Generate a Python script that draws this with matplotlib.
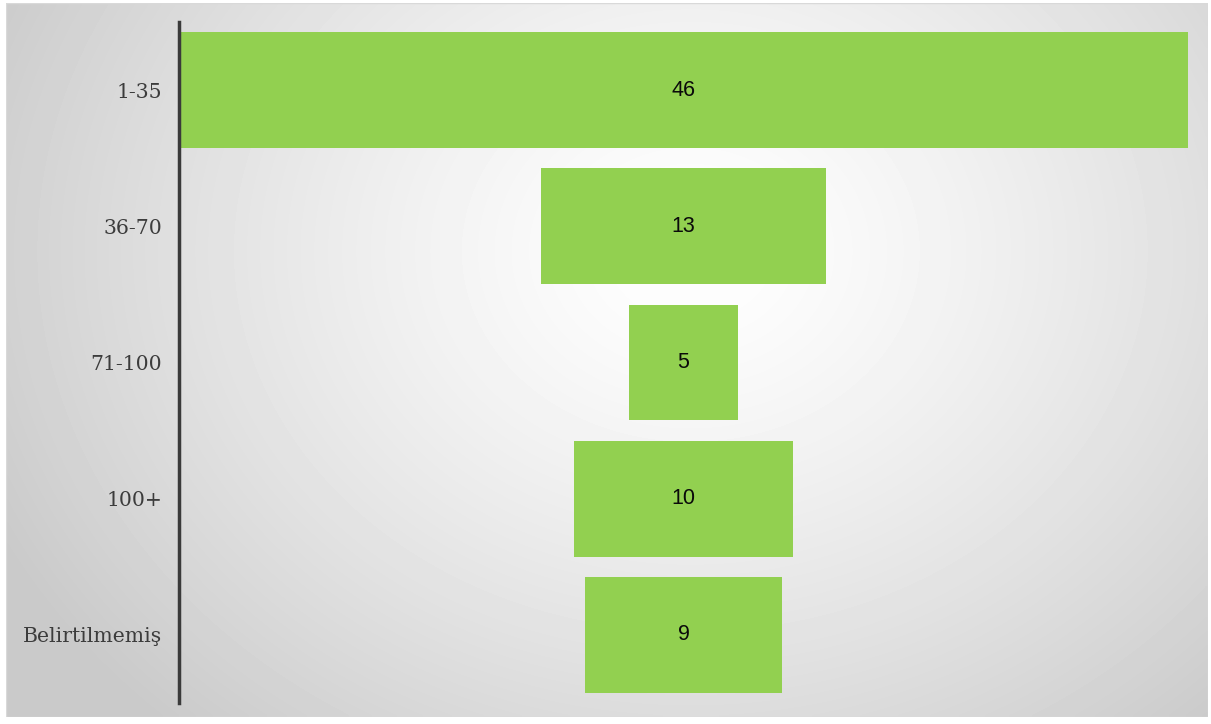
import matplotlib.pyplot as plt
import numpy as np

categories = ["1-35", "36-70", "71-100", "100+", "Belirtilmemiş"]
values = [46, 13, 5, 10, 9]

W, H = 1211, 724
fig = plt.figure(figsize=(W / 100, H / 100), dpi=100)
fig.patch.set_facecolor("white")

# radial grey background (chart area fill), pixel grid of the chart area
x0, x1, y0, y1 = 6, 1208, 3, 717
bg = fig.add_axes([x0 / W, 1 - y1 / H, (x1 - x0) / W, (y1 - y0) / H])
yy, xx = np.mgrid[y0:y1:4, x0:x1:4]
r = np.sqrt(((xx - 690) / 600.0) ** 2 + ((yy - 250) / 500.0) ** 2)
shade = np.clip(1.0 - 0.15 * r ** 1.3, 0.79, 0.99)
bg.imshow(shade, cmap="gray", vmin=0, vmax=1, aspect="auto", interpolation="bilinear")
bg.set_axis_off()
frame = plt.Rectangle((0, 0), 1, 1, transform=bg.transAxes, fill=False,
                      edgecolor="#d9d9d9", linewidth=1)
bg.add_patch(frame)

ax = fig.add_axes([179 / W, 1 - 703 / H, (1188 - 179) / W, (703 - 22) / H])
ax.patch.set_alpha(0)
vmax = max(values)
y = np.arange(len(categories))
lefts = [(vmax - v) / 2 for v in values]
ax.barh(y, values, left=lefts, height=0.85, color="#92D050")
for yi, v in zip(y, values):
    ax.text(vmax / 2, yi, str(v), ha="center", va="center",
            fontsize=15.5, color="#0a0a0a", family="Liberation Sans")

ax.set_xlim(0, vmax)
ax.set_ylim(len(categories) - 0.5, -0.5)
ax.set_yticks(y)
ax.set_yticklabels(categories, family="DejaVu Serif", fontsize=14.7, color="#3c3c3c")
ax.tick_params(axis="y", length=0, pad=12)
ax.set_xticks([])
for s in ["top", "right", "bottom"]:
    ax.spines[s].set_visible(False)
ax.spines["left"].set_color("#3a3a3a")
ax.spines["left"].set_linewidth(2.5)

fig.savefig("out.png", dpi=100)
